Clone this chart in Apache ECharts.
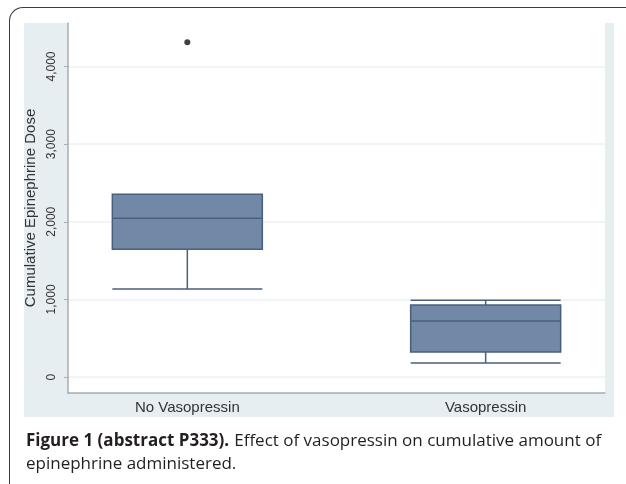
<!DOCTYPE html>
<html>
<head>
<meta charset="utf-8">
<title>Cumulative epinephrine dose</title>
<script src="https://cdn.jsdelivr.net/npm/echarts@6/dist/echarts.min.js"></script>
<style>
  html, body { margin:0; padding:0; background:#fff; overflow:hidden; }
  #wrap { position:relative; width:626px; height:484px; overflow:hidden; }
  #frame { position:absolute; left:9px; top:7px; width:700px; height:490px;
           border-top:1.5px solid #3c3c3c; border-left:1.5px solid #3c3c3c;
           border-top-left-radius:14px; border-bottom-left-radius:12px; }
  #panel { position:absolute; left:24px; top:23px; width:590px; height:394px; background:#e6eef2; }
  #main { position:absolute; left:0; top:0; width:626px; height:484px; }
</style>
</head>
<body>
<div id="wrap">
  <div id="frame"></div>
  <div id="panel"></div>
  <div id="main"></div>
</div>
<script type="text/javascript">
// groups along x
var groups = ['No Vasopressin', 'Vasopressin'];
// box stats: [lower whisker, Q1, median, Q3, upper whisker]
var noVasoBox = [1133, 1647, 2046, 2355, 2355];
var vasoBox = [180, 322, 721, 927, 991];
// outside values: [group index, dose]
var outliers = [[0, 4311]];
var yTicks = [0, 1000, 2000, 3000, 4000];

var chart = echarts.init(document.getElementById('main'));
var option = {
  backgroundColor: 'transparent',
  animation: false,
  grid: {
    left: 68, right: 21, top: 23, bottom: 91,
    show: true, backgroundColor: '#ffffff', borderWidth: 0
  },
  title: {
    left: 21, top: 425,
    text: '{b|Figure 1 (abstract P333).} {n|Effect of vasopressin on cumulative amount of}\n{n|epinephrine administered.}',
    textStyle: {
      fontWeight: 'normal',
      rich: {
        b: { fontFamily: 'Open Sans', fontWeight: 'bold', fontSize: 17, color: '#231f20', lineHeight: 23 },
        n: { fontFamily: 'Open Sans', fontWeight: 'normal', fontSize: 17, color: '#231f20', lineHeight: 23 }
      }
    }
  },
  xAxis: {
    type: 'value',
    min: -0.4, max: 1.4,
    splitLine: { show: false },
    axisLine: { show: true, onZero: false, lineStyle: { color: '#a7adb3', width: 1.5 } },
    axisTick: { show: false },
    axisLabel: {
      customValues: [0, 1],
      formatter: function (v) { return groups[Math.round(v)]; },
      color: '#333', fontFamily: 'Liberation Sans', fontSize: 15, margin: 7
    }
  },
  yAxis: {
    type: 'value',
    min: -205, max: 4560,
    name: 'Cumulative Epinephrine Dose',
    nameLocation: 'middle', nameGap: 18, nameRotate: 90,
    nameTextStyle: { color: '#333', fontFamily: 'Liberation Sans', fontSize: 15 },
    axisLine: { show: true, onZero: false, lineStyle: { color: '#a7adb3', width: 1.5 } },
    axisTick: { show: true, customValues: yTicks, length: 4, lineStyle: { color: '#a7adb3' } },
    axisLabel: {
      customValues: yTicks, rotate: 90,
      formatter: function (v) { return v.toLocaleString('en-US'); },
      color: '#333', fontFamily: 'Liberation Sans', fontSize: 12, margin: 10
    },
    splitLine: { show: true, lineStyle: { color: '#eef1f2', width: 1.5 } }
  },
  series: [
    {
      type: 'boxplot',
      boxWidth: [150, 150],
      itemStyle: { color: '#7189a7', borderColor: '#4a5f7b', borderWidth: 1.5 },
      data: [
        { value: [0].concat(noVasoBox) },
        { value: [1].concat(vasoBox) }
      ]
    },
    {
      type: 'scatter',
      symbolSize: 6,
      itemStyle: { color: '#111' },
      data: outliers
    }
  ]
};
chart.setOption(option);
</script>
</body>
</html>
